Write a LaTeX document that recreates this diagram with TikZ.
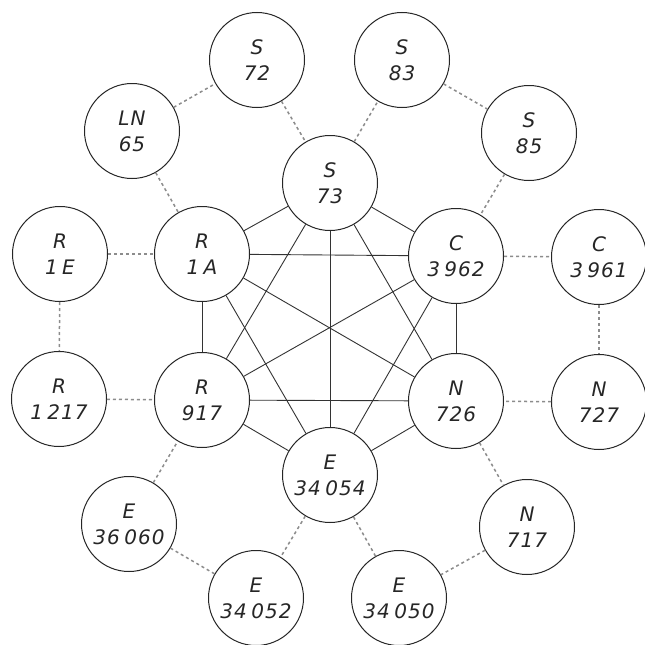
\documentclass[tikz,border=0pt]{standalone}
\usepackage{fontspec}
\newfontfamily\lettering[LetterSpace=5]{DejaVu Sans}
\newcommand\gap{\hspace{0.22em}}
\begin{document}
\begin{tikzpicture}[x=1pt,y=-1pt,
  station/.style={circle,draw=black!85,line width=1.0pt,minimum size=95pt,inner sep=0pt,
    align=center,font=\lettering\itshape\fontsize{20}{26}\selectfont,text=black!85},
  link/.style={draw=black!80,line width=0.9pt},
  weak/.style={draw=black!45,line width=1.5pt,dash pattern=on 3pt off 3pt}]
\useasboundingbox (0,0) rectangle (645,645);
\fill[white] (0,0) rectangle (645,645);
% inner ring
\node[station] (s73)    at (330,183) {S\\73};
\node[station] (r1a)    at (202,254) {R\\1\gap A};
\node[station] (c3962)  at (456,256) {C\\3\gap 962};
\node[station] (r917)   at (202,400) {R\\917};
\node[station] (n726)   at (456,401) {N\\726};
\node[station] (e34054) at (330,475) {E\\34\gap 054};
% outer ring
\node[station] (s72)    at (257,60)  {S\\72};
\node[station] (s83)    at (402,60)  {S\\83};
\node[station] (ln65)   at (132,131) {LN\\65};
\node[station] (s85)    at (529,133) {S\\85};
\node[station] (r1e)    at (60,254)  {R\\1\gap E};
\node[station] (c3961)  at (599,257) {C\\3\gap 961};
\node[station] (r1217)  at (59,399)  {R\\1\gap 217};
\node[station] (n727)   at (599,402) {N\\727};
\node[station] (e36060) at (129,524) {E\\36\gap 060};
\node[station] (n717)   at (527,527) {N\\717};
\node[station] (e34052) at (256,598) {E\\34\gap 052};
\node[station] (e34050) at (399,598) {E\\34\gap 050};
% solid links: every pair of the inner ring
\foreach \a/\b in {s73/r1a,s73/c3962,s73/r917,s73/n726,s73/e34054,
                   r1a/c3962,r1a/r917,r1a/n726,r1a/e34054,
                   c3962/r917,c3962/n726,c3962/e34054,
                   r917/n726,r917/e34054,n726/e34054}
  \path[link] (\a) -- (\b);
% dashed links to the outer ring
\foreach \a/\b in {ln65/s72,s72/s73,ln65/r1a,s73/s83,s83/s85,s85/c3962,
                   r1e/r1a,r1e/r1217,r1217/r917,c3962/c3961,c3961/n727,n727/n726,
                   n726/n717,n717/e34050,e34050/e34054,e34054/e34052,
                   e34052/e36060,e36060/r917}
  \path[weak] (\a) -- (\b);
\end{tikzpicture}
\end{document}
